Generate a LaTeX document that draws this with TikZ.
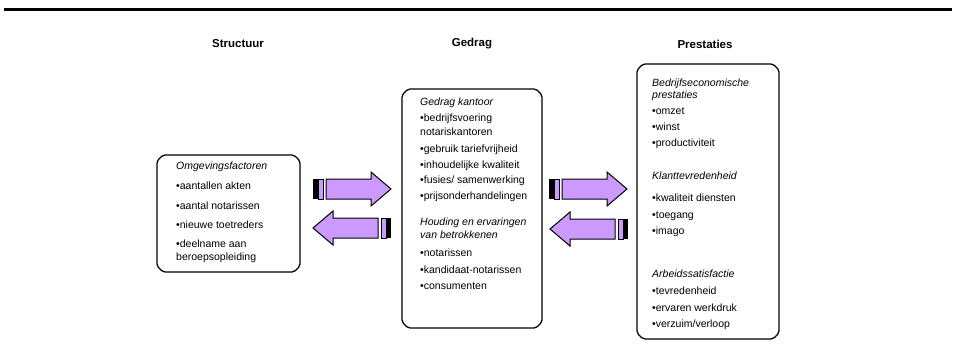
\documentclass[tikz,border=0pt]{standalone}
\usepackage{fontspec}
\setmainfont{Liberation Sans}
\definecolor{lila}{RGB}{204,153,255}
\tikzset{
  kaderlijn/.style={draw=black, line width=1.3pt, rounded corners=2pt},
  pijl/.style={draw=black, fill=lila, line width=1pt},
  kop/.style={font=\fontsize{11.5}{13}\selectfont\bfseries},
  tekst/.style={anchor=west, inner sep=0pt, font=\fontsize{10.5}{12}\selectfont, text height=7.5pt, text depth=2pt},
}
% kader met afgeschuinde hoeken: links, boven, rechts, onder
\newcommand\kader[4]{%
  \draw[kaderlijn] (#1+6,#2) -- (#3-6,#2) -- (#3,#2+6) -- (#3,#4-6) -- (#3-6,#4)
    -- (#1+6,#4) -- (#1,#4-6) -- (#1,#2+6) -- cycle;}
% blokpijl: staart x, midden y, richting (1 of -1)
\newcommand\blokpijl[3]{%
  \begin{scope}[shift={(#1,#2)}, xscale=#3]
    \fill[black] (0,-10) rectangle (5,10);
    \draw[pijl] (5,-10) rectangle (10,10);
    \draw[pijl] (13,-10) -- (58,-10) -- (58,-17) -- (78,0) -- (58,17) -- (58,10) -- (13,10) -- cycle;
  \end{scope}}

\begin{document}
\begin{tikzpicture}[x=1pt, y=-1pt]
        \useasboundingbox (0,0) rectangle (956,364);
        \draw[line width=3pt] (4,9) -- (952,9);

        % koppen
        \node[kop] (structuur) at (238,44) {Structuur};
        \node[kop] (gedrag) at (472,44) {Gedrag};
        \node[kop] (prestaties) at (705,44) {Prestaties};

        % kaders
        \kader{157}{155}{300}{272}
        \kader{402}{89}{542}{328}
        \kader{637}{64}{779}{339}

        % structuur
        \foreach \y/\t [count=\i] in {167/{\textit{Omgevingsfactoren}}, 187/{•aantallen akten},
            207/{•aantal notarissen}, 226/{•nieuwe toetreders}, 245/{•deelname aan}, 258/{beroepsopleiding}}
          \node[tekst] (s\i) at (176,\y) {\t};

        % gedrag
        \foreach \y/\t [count=\i] in {103/{\textit{Gedrag kantoor}}, 119/{•bedrijfsvoering},
            133/{notariskantoren}, 150/{•gebruik tariefvrijheid}, 166/{•inhoudelijke kwaliteit},
            181/{•fusies/ samenwerking}, 197/{•prijsonderhandelingen}, 223/{\textit{Houding en ervaringen}},
            236/{\textit{van betrokkenen}}, 254/{•notarissen}, 271/{•kandidaat-notarissen}, 287/{•consumenten}}
          \node[tekst] (g\i) at (420,\y) {\t};

        % prestaties
        \foreach \y/\t [count=\i] in {84/{\textit{Bedrijfseconomische}}, 96/{\textit{prestaties}},
            112/{•omzet}, 128/{•winst}, 144/{•productiviteit}, 177/{\textit{Klanttevredenheid}},
            199/{•kwaliteit diensten}, 216/{•toegang}, 232/{•imago}, 275/{\textit{Arbeidssatisfactie}},
            292/{•tevredenheid}, 309/{•ervaren werkdruk}, 325/{•verzuim/verloop}}
          \node[tekst] (p\i) at (652,\y) {\t};

        % pijlen
        \blokpijl{313}{189}{1}
        \blokpijl{391}{228}{-1}
        \blokpijl{549}{189}{1}
        \blokpijl{628}{229}{-1}
\end{tikzpicture}
\end{document}
